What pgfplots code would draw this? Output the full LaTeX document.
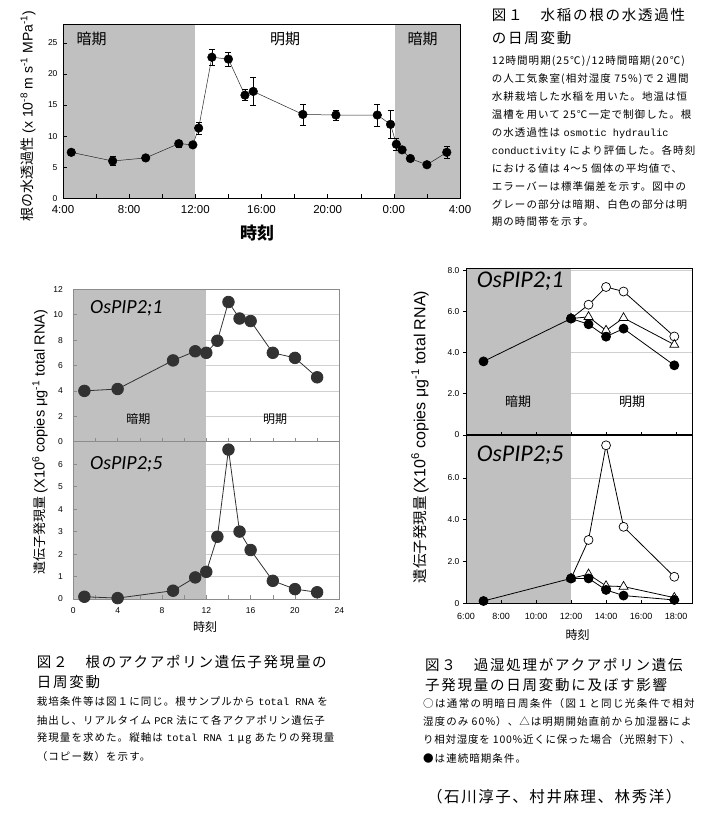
\documentclass[border=0pt]{standalone}
\usepackage{pgfplots}
\usepackage{pgfplotstable}
\pgfplotsset{compat=1.18}
\usepackage{fontspec}
\setmainfont{Liberation Sans}
\newfontfamily\jp{Noto Sans CJK JP}
\newfontfamily\jpm[LetterSpace=10]{Noto Sans CJK JP}
\newfontfamily\jpa[LetterSpace=7]{Noto Sans CJK JP}
\newfontfamily\jpb[LetterSpace=13]{Noto Sans CJK JP}
\newfontfamily\jpt[LetterSpace=12]{Noto Sans CJK JP}
\newfontfamily\carl{Carlito}
\newfontfamily\lmono{Liberation Mono}
\newcommand\tl[1]{{\lmono\fontsize{10.3}{11}\selectfont #1}}
\definecolor{bggray}{RGB}{192,192,192}
\definecolor{gridgray}{RGB}{208,208,208}
\definecolor{ptgray}{RGB}{50,50,50}
\definecolor{framegray}{RGB}{140,140,140}
\pgfdeclarelayer{fillbg}
\pgfplotsset{
  layers/withfill/.define layer set={axis background,axis grid,fillbg,axis ticks,axis lines,axis tick labels,pre main,main,axis descriptions,axis foreground}{/pgfplots/layers/standard},
  set layers=withfill,
}

\pgfplotstableread{
x y e
4.5 7.4 0.5
7.0 6.0 0.7
9.0 6.5 0.4
11.0 8.8 0.6
11.85 8.6 0.4
12.2 11.3 1.0
13.0 22.7 1.3
14.0 22.4 1.15
15.0 16.6 0.9
15.5 17.2 2.2
18.5 13.5 1.7
20.5 13.4 0.85
23.0 13.4 1.75
23.8 11.9 2.3
24.15 8.7 0.9
24.5 7.8 0.4
25.0 6.4 0.3
26.0 5.4 0.3
27.2 7.4 0.9
}\figA

\pgfplotstableread{
x y
1 4.0
4 4.15
9 6.4
11 7.12
12 7.0
13 7.95
14 11.0
15 9.7
16 9.5
18 7.0
20 6.6
22 5.07
}\figBa

\pgfplotstableread{
x y
1 0.1
4 0.04
9 0.37
11 0.96
12 1.21
13 2.77
14 6.65
15 3.0
16 2.18
18 0.81
20 0.44
22 0.3
}\figBb

\newcommand\capnode[4]{\node[anchor=west, inner sep=0pt, font=#1] at (#2pt,-#3pt) {#4};}

\begin{document}
\begin{tikzpicture}

% ---------------- Figure 1 ----------------
\begin{axis}[at={(63pt,-198.3pt)}, anchor=south west, scale only axis, clip=false,
  width=397pt, height=174pt, xmin=4, xmax=28, ymin=0, ymax=28,
  xtick={4,8,...,28}, xticklabels={4:00,8:00,12:00,16:00,20:00,0:00,4:00},
  minor xtick={6,10,...,26}, ytick={0,5,...,25},
  tick align=inside, tick pos=left, major tick length=4pt, minor tick length=4pt,
  tick style={black, line width=0.5pt},
  axis line style={black, line width=0.6pt},
  xticklabel style={font=\fontsize{11.5}{12}\selectfont, yshift=-4pt},
  yticklabel style={font=\fontsize{8.5}{9}\selectfont, xshift=-2pt},
  /pgf/number format/assume math mode=true]
\addplot[fill=bggray, draw=none, on layer=fillbg] coordinates {(4,28) (12,28)} \closedcycle;
\addplot[fill=bggray, draw=none, on layer=fillbg] coordinates {(24.05,28) (28,28)} \closedcycle;
\addplot[black!85, line width=0.5pt, mark=*, mark size=4.3pt, mark options={fill=black, draw=black},
  error bars/.cd, y dir=both, y explicit, error bar style={black, line width=0.5pt},
  error mark options={black, mark size=3pt, line width=0.5pt, rotate=90}]
  table[x=x, y=y, y error=e] {\figA};
\end{axis}
\node[font=\jp\fontsize{15}{15}\selectfont] at (91.7pt,-39.3pt) {暗期};
\node[font=\jp\fontsize{15}{15}\selectfont] at (285pt,-39.3pt) {明期};
\node[font=\jp\fontsize{15}{15}\selectfont] at (422.7pt,-39.3pt) {暗期};
\node[font=\jp\bfseries\fontsize{17}{17}\selectfont] at (257pt,-233pt) {時刻};
\node[rotate=90, font=\fontsize{14}{14}\selectfont] at (28pt,-116pt) {{\jp 根の水透過性} (x 10\textsuperscript{-8} m s\textsuperscript{-1} MPa\textsuperscript{-1})};

% caption 1
\capnode{\jpt\fontsize{14.5}{15}\selectfont}{491.7}{15}{図１　水稲の根の水透過性}
\capnode{\jpt\fontsize{14.5}{15}\selectfont}{491.7}{38.3}{の日周変動}
\capnode{\jpm\fontsize{10.5}{11}\selectfont}{491.7}{61}{12時間明期(25℃)/12時間暗期(20℃)}
\capnode{\jpm\fontsize{10.5}{11}\selectfont}{491.7}{79}{の人工気象室(相対湿度 75\%)で２週間}
\capnode{\jpm\fontsize{10.5}{11}\selectfont}{491.7}{97}{水耕栽培した水稲を用いた。地温は恒}
\capnode{\jpm\fontsize{10.5}{11}\selectfont}{491.7}{115}{温槽を用いて 25℃一定で制御した。根}
\capnode{\jpm\fontsize{10.5}{11}\selectfont}{491.7}{132.7}{の水透過性は \tl{osmotic hydraulic}}
\capnode{\jpm\fontsize{10.5}{11}\selectfont}{491.7}{150.7}{\tl{conductivity} により評価した。各時刻}
\capnode{\jpm\fontsize{10.5}{11}\selectfont}{491.7}{169}{における値は 4～5 個体の平均値で、}
\capnode{\jpm\fontsize{10.5}{11}\selectfont}{491.7}{186.7}{エラーバーは標準偏差を示す。図中の}
\capnode{\jpm\fontsize{10.5}{11}\selectfont}{491.7}{205}{グレーの部分は暗期、白色の部分は明}
\capnode{\jpm\fontsize{10.5}{11}\selectfont}{491.7}{221.7}{期の時間帯を示す。}

% ---------------- Figure 2 ----------------
\begin{axis}[at={(73.3pt,-441.7pt)}, anchor=south west, scale only axis, clip=false,
  width=266pt, height=152.4pt, xmin=0, xmax=24, ymin=0, ymax=12,
  xtick={0,2,...,24}, xticklabels={}, ytick={0,2,...,12},
  ymajorgrids, grid style={gridgray, line width=0.6pt},
  tick align=inside, tick pos=left, major tick length=4pt,
  tick style={framegray, line width=0.5pt},
  axis line style={framegray, line width=0.5pt},
  yticklabel style={font=\fontsize{8.5}{9}\selectfont, xshift=-7pt},
  /pgf/number format/assume math mode=true]
\addplot[fill=bggray, draw=none, on layer=fillbg] coordinates {(0,12) (12,12)} \closedcycle;
\addplot[ptgray, line width=0.8pt, mark=*, mark size=5.8pt, mark options={fill=ptgray, draw=ptgray}]
  table[x=x, y=y] {\figBa};
\end{axis}
\begin{axis}[at={(73.3pt,-599pt)}, anchor=south west, scale only axis, clip=false,
  width=266pt, height=157.3pt, xmin=0, xmax=24, ymin=0, ymax=7,
  xtick={0,4,...,24}, minor xtick={2,6,...,22}, ytick={0,...,6},
  ymajorgrids, grid style={gridgray, line width=0.6pt},
  tick align=inside, tick pos=left, major tick length=4pt, minor tick length=4pt,
  tick style={framegray, line width=0.5pt},
  axis line style={framegray, line width=0.5pt},
  xticklabel style={font=\fontsize{8.5}{9}\selectfont, yshift=-5pt},
  yticklabel style={font=\fontsize{8.5}{9}\selectfont, xshift=-7pt},
  /pgf/number format/assume math mode=true]
\addplot[fill=bggray, draw=none, on layer=fillbg] coordinates {(0,7) (12,7)} \closedcycle;
\addplot[ptgray, line width=0.8pt, mark=*, mark size=5.8pt, mark options={fill=ptgray, draw=ptgray}]
  table[x=x, y=y] {\figBb};
\end{axis}
\node[anchor=west, font=\carl\itshape\fontsize{20}{20}\selectfont, inner sep=0pt] at (90pt,-308pt) {OsPIP2;1};
\node[anchor=west, font=\carl\itshape\fontsize{20}{20}\selectfont, inner sep=0pt] at (90pt,-464pt) {OsPIP2;5};
\node[font=\jp\fontsize{12}{12}\selectfont] at (138.3pt,-419pt) {暗期};
\node[font=\jp\fontsize{12}{12}\selectfont] at (275pt,-419pt) {明期};
\node[font=\jp\fontsize{12}{12}\selectfont] at (205pt,-626.7pt) {時刻};
\node[rotate=90] at (40pt,-442pt) {{\jp\fontsize{13}{13}\selectfont 遺伝子発現量} {\fontsize{14.5}{15}\selectfont (X10\textsuperscript{6} copies μg\textsuperscript{-1} total RNA)}};

% caption 2
\capnode{\jpt\fontsize{14.5}{15}\selectfont}{36.7}{661.7}{図２　根のアクアポリン遺伝子発現量の}
\capnode{\jpt\fontsize{14.5}{15}\selectfont}{36.7}{681.7}{日周変動}
\capnode{\jpm\fontsize{10.5}{11}\selectfont}{36.7}{701.7}{栽培条件等は図１に同じ。根サンプルから \tl{total RNA} を}
\capnode{\jpm\fontsize{10.5}{11}\selectfont}{36.7}{720}{抽出し、リアルタイム \tl{PCR} 法にて各アクアポリン遺伝子}
\capnode{\jpm\fontsize{10.5}{11}\selectfont}{36.7}{738.3}{発現量を求めた。縦軸は \tl{total RNA 1} μg あたりの発現量}
\capnode{\jpm\fontsize{10.5}{11}\selectfont}{36.7}{756.7}{（コピー数）を示す。}

% ---------------- Figure 3 ----------------
\begin{axis}[at={(466pt,-435pt)}, anchor=south west, scale only axis, clip=false,
  width=226.7pt, height=167pt, xmin=6, xmax=18.95, ymin=0, ymax=8.1,
  xtick={6,8,...,18}, xticklabels={}, ytick={0,2,4,6,8}, yticklabels={0,2.0,4.0,6.0,8.0},
  ymajorgrids, grid style={gridgray, line width=0.6pt},
  xtick align=inside, ytick align=outside, tick pos=left, major tick length=3pt,
  tick style={black, line width=0.6pt},
  axis line style={black, line width=0.8pt},
  yticklabel style={font=\fontsize{8.5}{9}\selectfont},
  /pgf/number format/assume math mode=true]
\addplot[fill=bggray, draw=none, on layer=fillbg] coordinates {(6,8.1) (12,8.1)} \closedcycle;
\addplot[black, line width=0.8pt, mark=*, mark size=4.5pt, mark options={fill=white, draw=black, line width=0.7pt}]
  coordinates {(12,5.65) (13,6.32) (14,7.18) (15,6.96) (17.9,4.78)};
\addplot[black, line width=0.8pt, mark=triangle*, mark size=5.2pt, mark options={fill=white, draw=black, line width=0.7pt}]
  coordinates {(12,5.65) (13,5.73) (14,5.07) (15,5.68) (17.9,4.38)};
\addplot[black, line width=0.8pt, mark=*, mark size=4.5pt, mark options={fill=black, draw=black}]
  coordinates {(7,3.57) (12,5.65) (13,5.37) (14,4.77) (15,5.16) (17.9,3.38)};
\end{axis}
\begin{axis}[at={(466pt,-603.3pt)}, anchor=south west, scale only axis, clip=false,
  width=226.7pt, height=169.3pt, xmin=6, xmax=18.95, ymin=0, ymax=8.1,
  xtick={6,8,...,18}, xticklabels={6:00,8:00,10:00,12:00,14:00,16:00,18:00},
  ytick={0,2,4,6}, yticklabels={0,2.0,4.0,6.0},
  ymajorgrids, grid style={gridgray, line width=0.6pt},
  xtick align=inside, ytick align=outside, tick pos=left, major tick length=3pt,
  tick style={black, line width=0.6pt},
  axis line style={black, line width=0.8pt},
  xticklabel style={font=\fontsize{9}{9}\selectfont, yshift=-6pt},
  yticklabel style={font=\fontsize{8.5}{9}\selectfont},
  /pgf/number format/assume math mode=true]
\addplot[fill=bggray, draw=none, on layer=fillbg] coordinates {(6,8.1) (12,8.1)} \closedcycle;
\addplot[black, line width=0.8pt, mark=*, mark size=4.5pt, mark options={fill=white, draw=black, line width=0.7pt}]
  coordinates {(12,1.19) (13,3.03) (14,7.56) (15,3.66) (17.9,1.27)};
\addplot[black, line width=0.8pt, mark=triangle*, mark size=5.2pt, mark options={fill=white, draw=black, line width=0.7pt}]
  coordinates {(12,1.19) (13,1.39) (14,0.83) (15,0.80) (17.9,0.27)};
\addplot[black, line width=0.8pt, mark=*, mark size=4.5pt, mark options={fill=black, draw=black}]
  coordinates {(7,0.11) (12,1.19) (13,1.19) (14,0.64) (15,0.37) (17.9,0.16)};
\end{axis}
\node[anchor=west, font=\carl\itshape\fontsize{24}{24}\selectfont, inner sep=0pt] at (476.7pt,-281.7pt) {OsPIP2;1};
\node[anchor=west, font=\carl\itshape\fontsize{24}{24}\selectfont, inner sep=0pt] at (476.7pt,-455pt) {OsPIP2;5};
\node[font=\jp\fontsize{13}{13}\selectfont] at (518pt,-402pt) {暗期};
\node[font=\jp\fontsize{13}{13}\selectfont] at (632pt,-402pt) {明期};
\node[font=\jp\fontsize{12}{12}\selectfont] at (577.7pt,-635pt) {時刻};
\node[rotate=90] at (420pt,-437pt) {{\jp\fontsize{14.5}{15}\selectfont 遺伝子発現量} {\fontsize{16}{16}\selectfont (X10\textsuperscript{6} copies μg\textsuperscript{-1} total RNA)}};

% caption 3
\capnode{\jpt\fontsize{14.5}{15}\selectfont}{425}{665}{図３　過湿処理がアクアポリン遺伝}
\capnode{\jpt\fontsize{14.5}{15}\selectfont}{425}{685}{子発現量の日周変動に及ぼす影響}
\capnode{\jpb\fontsize{10.5}{11}\selectfont}{423}{703.3}{○は通常の明暗日周条件（図１と同じ光条件で相対}
\capnode{\jpm\fontsize{10.5}{11}\selectfont}{423}{721.7}{湿度のみ 60\%）、△は明期開始直前から加湿器によ}
\capnode{\jpa\fontsize{10.5}{11}\selectfont}{423}{739.3}{り相対湿度を 100\%近くに保った場合（光照射下）、}
\capnode{\jpm\fontsize{10.5}{11}\selectfont}{423}{758.3}{●は連続暗期条件。}
\capnode{\jpm\fontsize{15.5}{16}\selectfont}{427}{797}{（石川淳子、村井麻理、林秀洋）}

\pgfresetboundingbox
\useasboundingbox (0,0) rectangle (705pt,-817pt);
\end{tikzpicture}
\end{document}
